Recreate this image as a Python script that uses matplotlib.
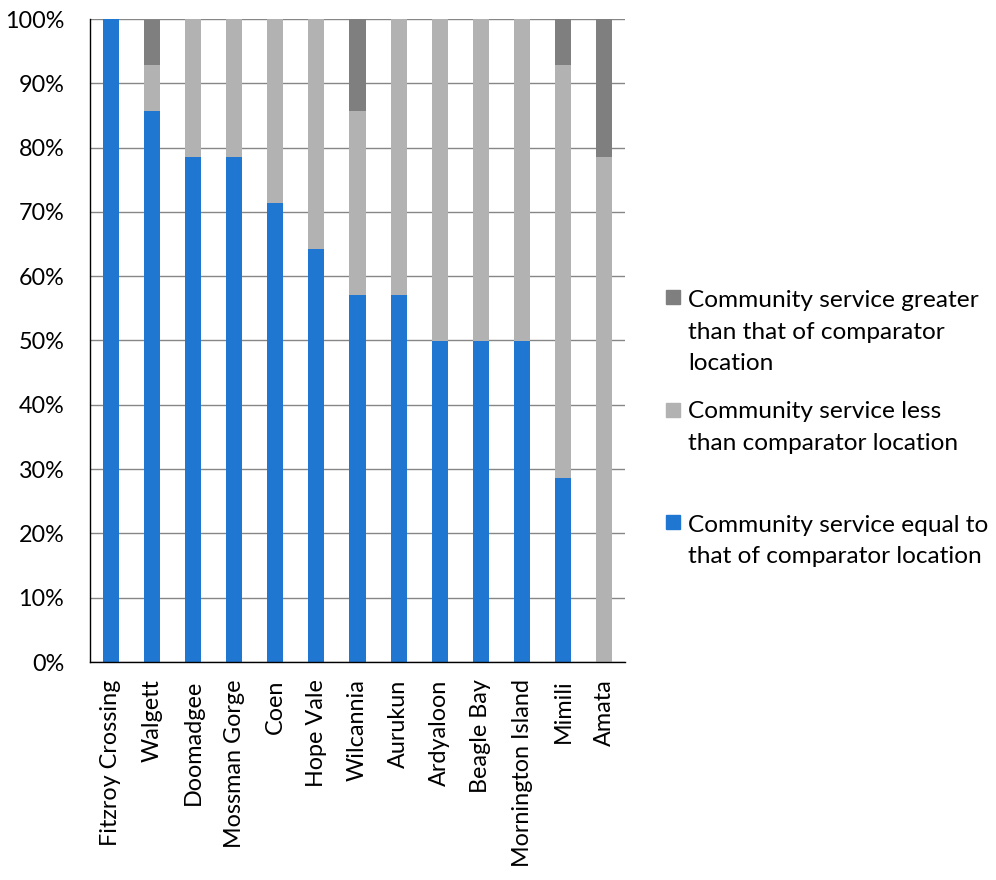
import matplotlib
matplotlib.use("Agg")
import matplotlib.pyplot as plt
from matplotlib.patches import Rectangle
from matplotlib.ticker import PercentFormatter
import numpy as np

categories = ["Fitzroy Crossing", "Walgett", "Doomadgee", "Mossman Gorge", "Coen",
              "Hope Vale", "Wilcannia", "Aurukun", "Ardyaloon", "Beagle Bay",
              "Mornington Island", "Mimili", "Amata"]
equal = [100.0, 85.7, 78.6, 78.6, 71.4, 64.3, 57.1, 57.1, 50.0, 50.0, 50.0, 28.6, 0.0]
less = [0.0, 7.1, 21.4, 21.4, 28.6, 35.7, 28.6, 42.9, 50.0, 50.0, 50.0, 64.3, 78.6]
greater = [0.0, 7.1, 0.0, 0.0, 0.0, 0.0, 14.3, 0.0, 0.0, 0.0, 0.0, 7.1, 21.4]
yticks = [0, 10, 20, 30, 40, 50, 60, 70, 80, 90, 100]
legend_labels = [
    ["Community service greater", "than that of comparator", "location"],
    ["Community service less", "than comparator location"],
    ["Community service equal to", "that of comparator location"],
]

c_equal = "#1F77D1"
c_less = "#B2B2B2"
c_greater = "#7F7F7F"

plt.rcParams["font.family"] = ["Lato", "DejaVu Sans"]
FS_TICK = 16.8
FS_LEG = 17.6

W, H = 996, 880
fig = plt.figure(figsize=(W / 100, H / 100), dpi=100)
ax = fig.add_axes([90 / W, 1 - 662 / H, (625 - 90) / W, (662 - 19) / H])

x = np.arange(len(categories))
eq = np.array(equal)
ls = np.array(less)
gr = np.array(greater)
ax.bar(x, eq, width=0.39, color=c_equal, zorder=3)
ax.bar(x, ls, width=0.39, bottom=eq, color=c_less, zorder=3)
ax.bar(x, gr, width=0.39, bottom=eq + ls, color=c_greater, zorder=3)

ax.set_xlim(-0.5, len(categories) - 0.5)
ax.set_ylim(0, 100)
ax.set_yticks(yticks)
ax.yaxis.set_major_formatter(PercentFormatter(decimals=0))
ax.set_xticks(x)
ax.set_xticklabels(categories, rotation=90, fontsize=FS_TICK)
ax.tick_params(axis="y", length=0, pad=18.5, labelsize=FS_TICK)
ax.tick_params(axis="x", length=0, pad=12.5)
ax.grid(axis="y", color="#868686", linewidth=1.0, zorder=0)
for s in ["top", "right"]:
    ax.spines[s].set_visible(False)
for s in ["left", "bottom"]:
    ax.spines[s].set_color("black")
    ax.spines[s].set_linewidth(1.0)
    ax.spines[s].set_zorder(4)

# legend (manual, matching Excel-style layout)
colors = [c_greater, c_less, c_equal]
marker_tops = [290, 403, 515]
baselines = [[307, 339, 370], [418, 450], [532, 563]]
for col, top, lines, bls in zip(colors, marker_tops, legend_labels, baselines):
    fig.patches.append(Rectangle((666 / W, 1 - (top + 14) / H), 14 / W, 14 / H,
                                 transform=fig.transFigure, color=col))
    for line, bl in zip(lines, bls):
        fig.text(688 / W, 1 - bl / H, line, fontsize=FS_LEG, va="baseline", ha="left")

fig.savefig("out.png", dpi=100)
